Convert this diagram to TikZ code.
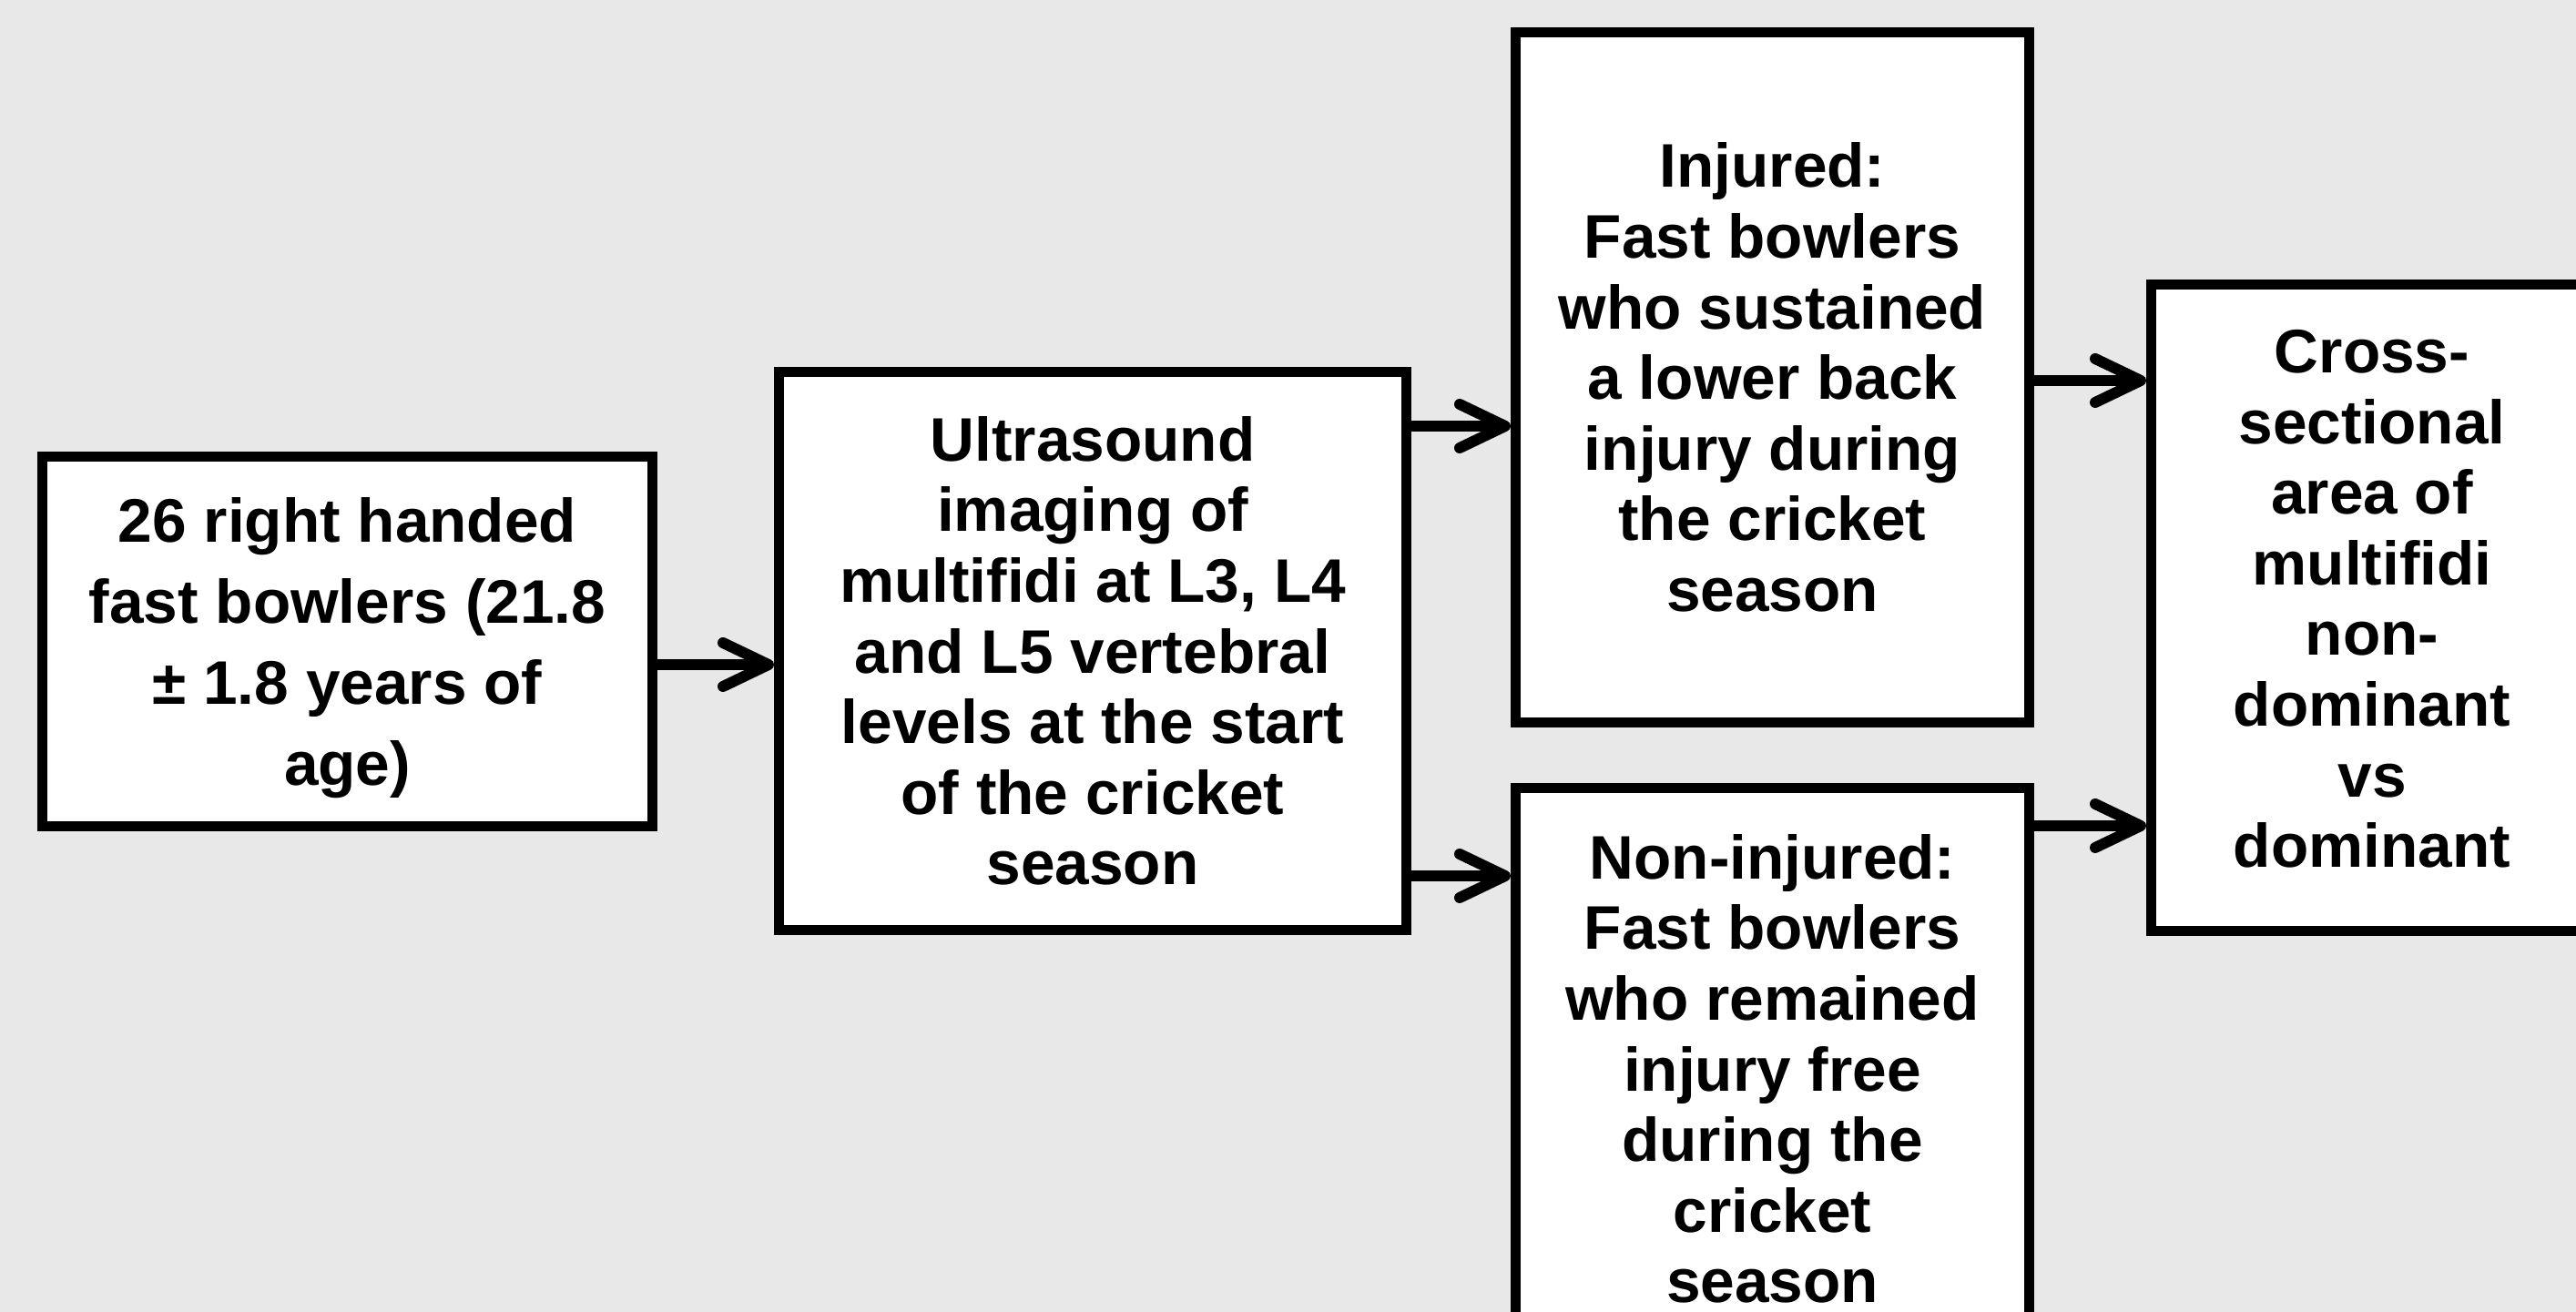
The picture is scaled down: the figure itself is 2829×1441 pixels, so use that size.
\documentclass[tikz,border=0pt]{standalone}
\usepackage{fontspec}
\setmainfont{Liberation Sans}
\usetikzlibrary{arrows.meta}
\definecolor{bg}{HTML}{E8E8E8}
\begin{document}
\begin{tikzpicture}[x=0.25pt,y=-0.25pt,
  box/.style={draw, fill=white, line width=2.75pt, inner sep=0pt, align=center,
    font=\bfseries\fontsize{16.9pt}{19.4pt}\selectfont},
  arr/.style={line width=3pt, -{Straight Barb[length=12.5pt,width=12pt,round]}}]
\useasboundingbox (0,0) rectangle (2829,1441);
\clip (0,0) rectangle (2829,1441);
\fill[bg] (0,0) rectangle (2829,1441);
\node[box, minimum width=167.5pt, minimum height=101.5pt, text depth=0pt,
  font=\bfseries\fontsize{16.9pt}{22.25pt}\selectfont] (b1) at (381.5,704.5)
  {26 right handed\\fast bowlers (21.8\\± 1.8 years of\\age)};
\node[box, minimum width=172.25pt, minimum height=153.25pt] (b2) at (1200,715)
  {Ultrasound\\imaging of\\multifidi at L3, L4\\and L5 vertebral\\levels at the start\\of the cricket\\season};
\node[box, minimum width=141pt, minimum height=189.5pt] (b3) at (1946.5,414.5)
  {Injured:\\Fast bowlers\\who sustained\\a lower back\\injury during\\the cricket\\season};
\node[box, minimum width=141pt, minimum height=154.25pt] (b4) at (1946.5,1174)
  {Non-injured:\\Fast bowlers\\who remained\\injury free\\during the\\cricket\\season};
\node[box, minimum width=121.25pt, minimum height=177.5pt, text depth=5pt] (b5) at (2605,667.5)
  {Cross-\\sectional\\area of\\multifidi\\non-\\dominant\\vs\\dominant};
\draw[arr] (b1.east |- 0,730) -- (b2.west |- 0,730);
\draw[arr] (b2.east |- 0,468) -- (b3.west |- 0,468);
\draw[arr] (b2.east |- 0,962) -- (b4.west |- 0,962);
\draw[arr] (b3.east |- 0,418) -- (b5.west |- 0,418);
\draw[arr] (b4.east |- 0,907) -- (b5.west |- 0,907);
\end{tikzpicture}
\end{document}
